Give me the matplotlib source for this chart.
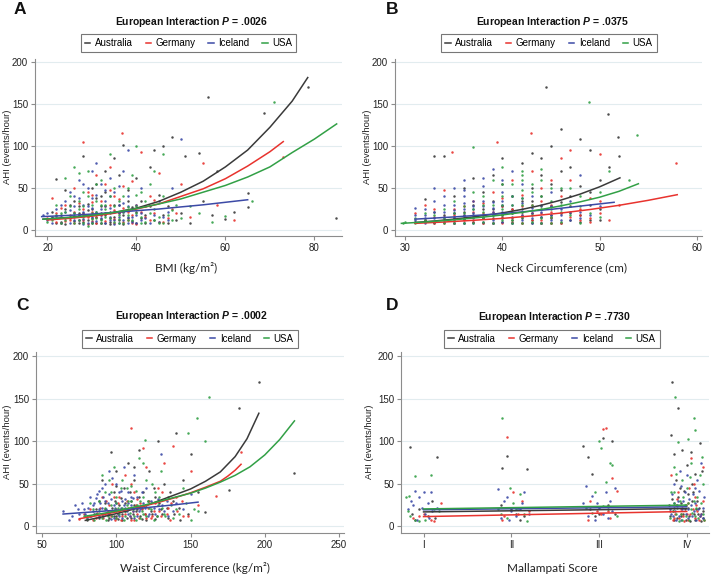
import matplotlib
matplotlib.use("Agg")
import matplotlib.pyplot as plt

plt.rcParams["font.family"] = ["Liberation Sans", "DejaVu Sans"]
plt.rcParams["mathtext.fontset"] = "custom"
plt.rcParams["mathtext.it"] = "Liberation Sans:bold:italic"
plt.rcParams["mathtext.rm"] = "Liberation Sans:bold"

W, H = 719, 575

countries = ["Australia", "Germany", "Iceland", "USA"]
colors = ["#3a3a3a", "#e8332e", "#3c4aa6", "#32a046"]

titles = ["European Interaction $P$ = .0026", "European Interaction $P$ = .0375",
          "European Interaction $P$ = .0002", "European Interaction $P$ = .7730"]
xlabels = ["BMI (kg/m²)", "Neck Circumference (cm)",
           "Waist Circumference (kg/m²)", "Mallampati Score"]
letters = ["A", "B", "C", "D"]
yticks = [0, 50, 100, 150, 200]
mallampati_ticks = [1, 2, 3, 4]
mallampati_labels = ["I", "II", "III", "IV"]

# ---- panel A : BMI ----
a_pts_aus = [(22,61),(24,47),(26,35),(27,20),(28,88),(29,12),(30,25),(30,8),(31,55),(32,40),
             (33,18),(33,70),(34,10),(35,30),(35,85),(36,22),(37,101),(38,14),(38,48),(39,27),
             (40,9),(40,62),(41,35),(42,18),(43,75),(44,95),(45,42),(46,100),(47,28),(48,110),
             (49,12),(50,20),(51,88),(52,8),(54,92),(55,35),(56,158),(57,18),(58,70),(60,13),
             (62,22),(65,44),(65,27),(68.6,139),(78.5,170),(84.8,14),(25,14),(27,9),(29,31),
             (31,16),(34,7),(36,12),(23,10),(21,15),(32,28),
             (21,22),(22,9),(23,18),(24,25),(24,7),(25,30),(26,11),(26,17),(27,28),(28,10),
             (28,20),(29,24),(30,14),(31,9),(31,38),(32,20),(32,13),(33,8),(33,45),(34,22),
             (35,16),(36,30),(37,18),(37,7),(38,35),(39,11),(40,22),(41,14),(42,8),(43,28),
             (44,12),(46,18),(47,9),(36,65),(30,50)]
a_pts_ger = [(21,38),(22,20),(23,8),(24,30),(25,12),(26,50),(27,18),(28,104),(28,25),(29,7),
             (30,42),(31,15),(31,65),(32,9),(33,28),(34,48),(35,13),(36,37),(36.7,115),(37,10),
             (38,22),(39,58),(40,30),(40,7),(41,93),(42,15),(43,40),(44,20),(45,68),(46,10),
             (48,25),(50,55),(52,15),(55,80),(58,30),(73,87),(62,12),(26,22),(29,16),(33,11),
             (35,24),(24,11),(30,33),(34,75),
             (20,14),(22,10),(23,26),(25,18),(26,9),(27,32),(27,12),(28,19),(29,45),(30,11),
             (30,22),(31,8),(32,35),(32,18),(33,55),(34,14),(34,30),(35,9),(35,40),(36,20),
             (37,26),(37,52),(38,12),(39,18),(39,8),(41,22),(42,28),(43,12),(44,36),(45,10),
             (47,14),(49,20),(33,20),(28,12),(26,15)]
a_pts_ice = [(19,18),(20,12),(21,8),(22,25),(23,15),(24,35),(25,9),(25,45),(26,20),(27,12),
             (27,60),(28,30),(28,7),(29,18),(29,50),(30,10),(30,38),(31,22),(31,80),(32,14),
             (32,55),(33,8),(33,35),(34,26),(34,62),(35,12),(35,45),(36,20),(36,8),(37,32),
             (37,70),(38,16),(38,40),(39,10),(39,25),(40,18),(41,12),(41,50),(42,28),(43,8),
             (45,35),(46,15),(47,22),(48,50),(50,108),(47,12),(26,28),(24,22),(32,18),(36,52),
             (38,95),(34,16),
             (20,20),(21,14),(22,17),(23,9),(23,30),(24,14),(25,24),(26,12),(27,18),(27,38),
             (28,22),(28,13),(29,9),(29,28),(30,16),(30,26),(31,11),(31,42),(32,25),(32,9),
             (33,20),(33,28),(34,12),(34,40),(35,22),(35,7),(36,15),(36,30),(37,12),(37,22),
             (38,9),(38,28),(39,15),(40,30),(40,9),(41,20),(42,14),(44,18),(45,10),(30,70),
             (33,48),(28,55),(26,40)]
a_pts_usa = [(20,10),(22,30),(23,20),(24,12),(25,40),(26,75),(26,8),(27,25),(28,15),(28,45),
             (29,70),(30,20),(30,9),(31,35),(32,60),(32,12),(33,25),(34,90),(34,14),(35,50),
             (36,18),(36,8),(37,40),(38,27),(38,12),(39,65),(40,100),(40,20),(41,45),(42,10),
             (42,35),(43,55),(44,25),(45,8),(45,15),(46,40),(47,18),(48,12),(49,30),(50,14),
             (52,28),(54,20),(57,10),(60,17),(66,35),(71,152),(29,5),(33,30),(37,9),(40,42),(31,14),
             (21,12),(22,18),(23,8),(24,22),(25,15),(25,28),(26,20),(27,12),(27,35),(28,9),
             (28,28),(29,18),(29,40),(30,13),(30,30),(31,22),(31,55),(32,8),(32,30),(33,16),
             (34,40),(34,20),(35,10),(35,28),(36,35),(36,13),(37,22),(38,18),(38,50),(39,12),
             (40,28),(41,8),(41,16),(43,20),(44,12),(46,8),(48,24),(24,62),(27,68),(44,70),(46,90)]

a_fit_x_aus = [19, 25, 30, 35, 40, 45, 50, 55, 60, 65, 70, 75, 78.5]
a_fit_y_aus = [13, 15, 17.5, 21, 26, 34, 45, 58, 75, 95, 122, 153, 181]
a_fit_x_ger = [20, 25, 30, 35, 40, 45, 50, 55, 60, 65, 70, 73]
a_fit_y_ger = [12, 14, 16.5, 20, 25, 31, 40, 49, 61, 76, 93, 105]
a_fit_x_ice = [18.7, 25, 30, 35, 40, 45, 50, 55, 60, 65]
a_fit_y_ice = [16, 17.5, 19, 21, 23, 25, 27.5, 30, 33, 36]
a_fit_x_usa = [19, 25, 30, 35, 40, 45, 50, 55, 60, 65, 70, 75, 80, 85]
a_fit_y_usa = [13, 15, 17.5, 21, 25.5, 31, 37, 45, 53, 63, 75, 92, 108, 126]

# ---- panel B : neck ----
b_pts_aus = [(31,10),(32,37),(33,88),(34,88),(34,12),(35,20),(36,8),(36,50),(37,30),(37,62),
             (38,15),(38,45),(39,9),(39,25),(40,18),(40,55),(40,85),(41,12),(41,40),(42,22),
             (42,80),(42,9),(43,35),(43,92),(44,15),(44,65),(44.5,170),(45,28),(45,100),(45,8),
             (46,48),(46,120),(47,20),(47,75),(48,10),(48,52),(48,108),(49,30),(49,95),(50,60),
             (50,12),(50.9,138),(51.9,110),(52,88),(51,75),(46,33),(43,12),(39,65),(35,40),(33,22),
             (32,12),(33,9),(34,18),(35,14),(35,8),(36,22),(36,13),(37,10),(37,18),(38,25),
             (38,8),(39,14),(39,35),(40,10),(40,28),(41,20),(41,8),(41,25),(42,14),(42,35),
             (43,8),(43,20),(43,50),(44,28),(44,9),(44,40),(45,14),(45,18),(45,55),(46,9),
             (46,20),(47,12),(47,40),(48,18),(49,12),(49,45),(50,25),(46,70),(44,85)]
b_pts_ger = [(31,20),(32,30),(33,15),(34,8),(34,48),(34.8,93),(35,25),(36,12),(37,35),(38,20),
             (38,9),(39,45),(39.4,104),(40,15),(40,28),(41,10),(41,60),(42,18),(42.9,115),(43,30),
             (44,12),(44,50),(45,22),(45,8),(46,40),(46,85),(47,15),(47,95),(48,25),(49,14),
             (50,90),(50,35),(57.9,80),(36,18),(38,32),(40,8),(42,42),(44,20),(47,60),(49,10),
             (32,12),(33,9),(33,25),(34,15),(35,8),(35,18),(36,28),(37,10),(37,22),(38,14),
             (39,9),(39,22),(40,38),(40,20),(41,14),(41,25),(42,8),(42,28),(43,12),(43,20),
             (44,9),(44,35),(45,15),(45,30),(46,8),(46,20),(47,28),(48,12),(48,18),(50,20),
             (51,12),(52,30),(45,60),(43,70),(49,38)]
b_pts_ice = [(31,26),(31,12),(32,18),(32,8),(33,35),(33,14),(34,22),(34,10),(35,30),(35,16),
             (35,50),(36,9),(36,25),(36,40),(37,14),(37,35),(37,20),(38,10),(38,28),(38,52),
             (39,18),(39,33),(39,12),(40,22),(40,45),(40,10),(41,16),(41,30),(41,70),(42,25),
             (42,12),(42,55),(43,20),(43,40),(43,8),(44,15),(44,30),(45,18),(45,45),(46,12),
             (46,25),(47,35),(47,12),(48,22),(48,65),(49,18),(50,28),(33,50),(36,60),(39,72),
             (31,18),(32,14),(32,25),(33,10),(33,22),(34,16),(34,30),(35,9),(35,20),(35,24),
             (36,14),(36,18),(36,32),(37,9),(37,25),(37,28),(38,14),(38,18),(38,35),(39,9),
             (39,22),(39,26),(40,14),(40,30),(40,35),(41,9),(41,22),(41,40),(42,18),(42,32),
             (43,14),(43,26),(44,9),(44,22),(45,12),(45,28),(46,18),(47,22),(48,14),(34,40),
             (36,48),(38,62),(40,60),(42,38)]
b_pts_usa = [(29.8,9),(31,14),(32,20),(33,10),(34,25),(35,12),(35,35),(36,20),(36,8),(37,99),
             (37,45),(37,15),(38,22),(38,10),(39,30),(39,60),(40,12),(40,40),(40,75),(41,20),
             (41,55),(41,8),(42,30),(42,70),(42,15),(43,45),(43,10),(44,25),(44,60),(45,35),
             (45,15),(46,50),(46,10),(47,28),(48,40),(48.9,152),(49,20),(50,45),(51,70),(53,60),
             (53.9,113),(38,40),(40,25),(42,48),(44,8),(46,22),
             (30,10),(31,8),(32,12),(33,18),(34,9),(34,14),(35,20),(35,8),(36,14),(36,28),
             (37,9),(37,25),(38,14),(38,30),(39,9),(39,18),(40,18),(40,30),(40,55),(41,12),
             (41,30),(41,40),(42,9),(42,22),(42,60),(42,38),(43,18),(43,30),(43,55),(44,14),
             (44,40),(45,9),(45,25),(45,50),(46,30),(47,18),(47,50),(48,9),(48,28),(50,15),
             (42,65),(44,72)]

b_fit_x_aus = [31, 33, 35, 37, 40, 42, 44, 46, 48, 50, 52.1]
b_fit_y_aus = [9, 10.8, 13, 15.6, 20.4, 24.5, 29.5, 35.5, 42.7, 51.3, 62]
b_fit_x_ger = [31, 34, 37, 40, 43, 46, 49, 52, 55, 58]
b_fit_y_ger = [8, 9.6, 11.6, 13.9, 16.8, 20.2, 24.4, 29.4, 35.3, 42]
b_fit_x_ice = [31, 35, 40, 45, 51.5]
b_fit_y_ice = [13, 15.6, 19.6, 24.6, 33]
b_fit_x_usa = [29.6, 32, 35, 38, 40, 42, 44, 46, 48, 50, 52, 54]
b_fit_y_usa = [8, 9.6, 12.2, 15.4, 18, 21, 24.5, 28.7, 33.5, 39, 46, 55]

# ---- panel C : waist ----
c_pts_aus = [(80,8),(85,15),(88,30),(90,55),(92,20),(95,10),(96,88),(98,40),(100,12),(100,65),
             (102,25),(104,8),(105,45),(106,18),(108,75),(110,30),(110,10),(112,55),(114,20),(115,90),
             (116,12),(118,40),(120,25),(122,65),(124,15),(126,35),(128,100),(130,20),(132,50),(135,10),
             (138,30),(140,110),(142,22),(145,55),(148,15),(150,85),(155,40),(160,17),(176,43),
             (182.6,139),(196,170),(220,63),(103,33),(117,9),(127,12),(97,22),
             (82,12),(86,20),(88,10),(90,15),(92,28),(94,8),(96,18),(98,12),(99,30),(101,9),
             (103,20),(104,15),(106,28),(107,10),(108,20),(109,40),(111,14),(112,25),(113,18),(115,35),
             (117,22),(119,14),(120,8),(121,30),(123,18),(125,45),(126,9),(129,28),(131,14),(134,22),
             (136,40),(139,15),(143,8),(100,48),(112,70)]
c_pts_ger = [(75,9),(78,14),(82,20),(86,10),(90,35),(92,15),(95,25),(97,50),(99,8),(100,20),
             (102,35),(104,12),(106,60),(108,22),(110,8),(109.8,116),(112,40),(114,15),(116,28),(118,92),
             (120,10),(122,30),(125,18),(128,45),(130,12),(132,75),(135,22),(138,95),(140,35),(145,12),
             (150,65),(155,25),(183.7,87),(167,36),(101,15),(113,25),(123,10),(136,8),
             (80,12),(84,8),(87,16),(89,22),(91,10),(93,30),(94,18),(96,12),(98,35),(100,10),
             (101,28),(103,8),(105,20),(106,14),(107,30),(109,12),(111,18),(112,8),(114,32),(115,10),
             (117,20),(119,14),(121,22),(124,12),(126,28),(129,18),(131,40),(134,15),(137,28),(141,18),
             (144,30),(148,12),(110,50),(120,70)]
c_pts_ice = [(64,18),(68,8),(72,25),(75,14),(78,20),(80,10),(82,35),(84,18),(85,28),(86,33),
             (88,12),(90,22),(90,45),(92,30),(94,15),(95,38),(96,9),(98,25),(100,18),(100,50),
             (102,12),(104,30),(105,70),(106,22),(108,15),(108,40),(110,25),(112,10),(112,60),(114,35),
             (115,18),(118,28),(120,45),(122,15),(125,22),(128,32),(130,85),(132,18),(135,12),(140,28),
             (145,20),(150,38),(103,42),(97,57),(111,33),
             (70,12),(74,20),(77,28),(79,15),(81,22),(83,12),(84,25),(86,14),(87,38),(88,20),
             (89,28),(91,12),(91,35),(93,20),(94,28),(95,14),(96,32),(97,18),(98,10),(99,22),
             (100,28),(101,14),(102,40),(103,22),(104,10),(105,25),(106,32),(107,18),(108,28),(109,12),
             (110,35),(111,18),(113,22),(114,12),(116,20),(117,40),(119,22),(121,12),(123,30),(126,15),
             (129,20),(131,25),(134,30),(138,18),(92,50),(95,65),(88,42)]
c_pts_usa = [(78,12),(82,28),(85,8),(88,18),(90,60),(92,40),(94,12),(96,25),(98,70),(100,35),
             (100,10),(102,18),(104,55),(106,12),(108,30),(110,48),(111,20),(113,8),(115,80),(116,30),
             (118,15),(120,55),(122,22),(125,8),(126,40),(128,25),(130,65),(132,15),(135,35),(138,10),
             (140,20),(145,45),(150,8),(154.5,127),(148,109.6),(162.6,152.6),(160,100),(155,18),
             (107,45),(119,102),(101,22),
             (80,9),(84,20),(86,14),(88,30),(90,10),(92,22),(93,8),(95,16),(96,40),(97,12),
             (99,20),(100,28),(102,14),(103,45),(104,22),(105,8),(106,18),(107,25),(109,16),(110,30),
             (112,12),(113,42),(114,25),(116,10),(117,18),(118,35),(120,12),(121,30),(123,20),(124,50),
             (127,12),(129,35),(131,22),(133,12),(137,25),(142,14),(147,28),(152,20),(95,55),(118,75)]

c_fit_x_aus = [79, 90, 100, 110, 120, 130, 140, 150, 160, 170, 180, 188, 196]
c_fit_y_aus = [7, 11, 15, 19.5, 24.5, 31, 37.5, 44, 53, 64, 82, 103, 133]
c_fit_x_ger = [75, 90, 100, 110, 120, 130, 140, 150, 160, 170, 175, 180, 184]
c_fit_y_ger = [9, 13.5, 17, 20.5, 24.5, 29, 34, 39.5, 46, 53, 59, 66, 73]
c_fit_x_ice = [64, 80, 100, 120, 140, 155]
c_fit_y_ice = [14.5, 16.5, 19, 22, 25.5, 28.5]
c_fit_x_usa = [79, 90, 100, 110, 120, 130, 140, 150, 160, 170, 180, 190, 200, 210, 220]
c_fit_y_usa = [12, 15, 18, 22, 25.5, 30, 34.5, 39, 45, 52, 60, 70, 84, 102, 124]

# ---- panel D : Mallampati (jittered categories) ----
d_pts_aus = [(0.85,93),(1.15,82),(0.95,20),(1.05,12),(1.1,30),(0.9,8),
             (1.95,83),(1.9,69),(2.18,68),(2.05,15),(1.88,25),(2.1,8),
             (2.82,94),(2.88,81),(2.92,62),(3.05,104),(3.15,100),(2.95,12),(3.1,25),(3.18,15),
             (3.83,170),(3.9,139),(3.82,108),(3.85,85),(3.95,90),(4.0,72),(4.05,88),(4.15,98),
             (4.1,62),(3.88,55),(3.92,45),(4.02,38),(4.12,30),(3.8,25),(3.98,20),(4.08,15),
             (4.18,10),(3.86,8),(3.94,12),(4.04,6),(4.14,22),(3.9,35),(4.06,50),(4.17,65),(3.84,18),
             (3.81,12),(3.86,22),(3.89,10),(3.93,28),(3.96,15),(3.99,8),(4.01,22),(4.03,12),
             (4.06,30),(4.09,8),(4.11,20),(4.13,14),(4.16,6),(4.19,18),(3.83,32),(3.97,42),
             (4.07,40),(0.87,15),(1.13,10),(2.0,20),(2.14,12),(2.9,20),(3.0,15)]
d_pts_ger = [(1.0,14),(1.2,27),(0.88,10),(1.12,6),
             (1.95,105),(2.02,40),(2.12,30),(1.92,12),(2.2,18),
             (3.08,116),(3.04,115),(3.15,57),(2.9,30),(3.12,10),(3.2,42),(2.98,18),
             (3.82,60),(3.9,40),(3.95,22),(4.0,15),(4.05,80),(4.1,35),(4.15,12),(4.2,8),
             (3.85,10),(4.02,28),(4.12,18),(3.97,6),(4.08,50),(3.88,25),(4.18,70),(3.93,14),
             (3.81,18),(3.84,8),(3.87,14),(3.91,10),(3.94,20),(3.96,12),(3.99,25),(4.01,8),
             (4.04,14),(4.07,20),(4.09,10),(4.11,25),(4.14,8),(4.16,15),(4.19,30),(3.89,32),
             (4.03,45),(0.95,12),(1.08,8),(1.9,8),(2.08,14),(2.88,8),(3.02,14),(3.1,18)]
d_pts_ice = [(0.82,20),(0.9,42),(0.95,35),(1.0,40),(1.05,28),(1.1,18),(0.88,25),(1.02,15),
             (0.92,8),(1.15,22),(0.86,30),(1.08,40),
             (1.85,44),(1.92,30),(2.0,18),(2.08,22),(2.15,40),(1.88,10),(2.05,12),(2.12,28),
             (1.97,8),(2.2,15),
             (2.85,48),(2.92,36),(3.0,22),(3.08,40),(2.88,12),(3.12,30),(3.18,45),(2.95,8),
             (3.05,15),(2.82,28),(3.15,18),
             (3.85,50),(3.9,30),(3.95,20),(4.0,60),(4.05,25),(4.1,45),(4.15,12),(4.2,35),
             (3.82,15),(3.88,8),(3.98,40),(4.08,18),(4.12,55),(3.92,65),(4.18,22),(4.02,10),
             (3.86,28),(4.16,75),
             (3.81,20),(3.84,12),(3.87,18),(3.89,25),(3.91,12),(3.94,8),(3.96,30),(3.99,15),
             (4.01,20),(4.03,32),(4.06,12),(4.09,28),(4.11,8),(4.13,20),(4.16,14),(4.19,10),
             (3.93,48),(4.07,38),(4.14,42),(3.83,38),(0.98,22),(1.06,10),(1.95,35),(2.1,20),
             (2.98,28),(3.1,10)]
d_pts_usa = [(0.8,34),(0.83,36),(0.9,8),(1.08,60),(0.9,59),(1.12,20),(0.85,12),(1.18,18),(0.95,6),
             (1.9,127),(1.98,45),(2.1,38),(1.85,20),(2.02,28),(2.15,14),(2.18,6),(1.95,10),
             (3.0,100),(3.02,92),(3.12,75),(3.15,72),(3.08,52),(2.85,22),(2.95,40),(3.2,12),(3.1,20),
             (3.87,152),(4.08,127),(4.09,113),(4.02,103),(3.9,99),(3.85,70),(3.95,55),(4.0,45),
             (3.92,30),(4.05,20),(4.1,12),(4.15,60),(4.2,8),(3.82,40),(3.88,15),(3.98,25),
             (4.12,35),(4.18,50),(3.95,8),(4.05,75),(3.85,28),
             (3.81,10),(3.84,18),(3.86,40),(3.89,22),(3.91,6),(3.93,15),(3.96,35),(3.99,12),
             (4.01,28),(4.03,8),(4.06,16),(4.08,30),(4.11,22),(4.13,10),(4.16,28),(4.19,15),
             (3.88,62),(4.04,58),(4.17,82),(0.82,18),(1.02,8),(2.05,20),(1.88,15),(2.92,16),(3.05,24)]

d_fit_x = [1, 2, 3, 4]
d_fit_y_aus = [17, 18.3, 19.6, 21]
d_fit_y_ger = [11.5, 13.5, 15.5, 17.5]
d_fit_y_ice = [19.5, 20.7, 21.9, 23]
d_fit_y_usa = [20.5, 22, 23.5, 25]

panel_pts = [
    [a_pts_aus, a_pts_ger, a_pts_ice, a_pts_usa],
    [b_pts_aus, b_pts_ger, b_pts_ice, b_pts_usa],
    [c_pts_aus, c_pts_ger, c_pts_ice, c_pts_usa],
    [d_pts_aus, d_pts_ger, d_pts_ice, d_pts_usa],
]
panel_fits = [
    [(a_fit_x_aus, a_fit_y_aus), (a_fit_x_ger, a_fit_y_ger), (a_fit_x_ice, a_fit_y_ice), (a_fit_x_usa, a_fit_y_usa)],
    [(b_fit_x_aus, b_fit_y_aus), (b_fit_x_ger, b_fit_y_ger), (b_fit_x_ice, b_fit_y_ice), (b_fit_x_usa, b_fit_y_usa)],
    [(c_fit_x_aus, c_fit_y_aus), (c_fit_x_ger, c_fit_y_ger), (c_fit_x_ice, c_fit_y_ice), (c_fit_x_usa, c_fit_y_usa)],
    [(d_fit_x, d_fit_y_aus), (d_fit_x, d_fit_y_ger), (d_fit_x, d_fit_y_ice), (d_fit_x, d_fit_y_usa)],
]
xlims = [(17.2, 86.2), (28.94, 60.55), (45.75, 253.4), (0.743, 4.254)]
xticks = [[20, 40, 60, 80], [30, 40, 50, 60], [50, 100, 150, 200, 250], mallampati_ticks]
ylims = [(-7, 203), (-7, 203), (-7.8, 205), (-7.8, 205)]

# pixel boxes (left, top, right, bottom) of each plot area
boxes = [(35, 59, 342, 236), (395, 59, 702, 236), (36, 352, 344, 533), (401, 352, 709, 533)]
title_pos = [(191, 22), (553, 22), (191, 316), (554, 317)]
legend_pos = [(188.5, 52), (549, 52), (190, 347.5), (552, 347.5)]
letter_pos = [(14, 2), (386, 2), (16, 298), (386, 298)]
xlabel_pos = [(186, 268), (562, 268), (195, 568), (552, 568)]
ylabel_pos = [(8, 147), (368, 147), (8, 442), (370, 442)]


def fx(px):
    return px / W


def fy(py):
    return 1 - py / H


fig = plt.figure(figsize=(W / 100, H / 100), dpi=100)
fig.patch.set_facecolor("white")

for i in range(4):
    l, t, r, b = boxes[i]
    ax = fig.add_axes([fx(l), fy(b), (r - l) / W, (b - t) / H])

    for pts, col in zip(panel_pts[i], colors):
        xs = [p[0] for p in pts]
        ys = [p[1] for p in pts]
        ax.scatter(xs, ys, s=3.2, color=col, linewidths=0, alpha=0.9, zorder=2)

    order = [1, 0, 2, 3] if i == 3 else [0, 1, 2, 3]
    for k in order:
        fx_, fy_ = panel_fits[i][k]
        ax.plot(fx_, fy_, color=colors[k], lw=1.1, zorder=3, label=countries[k],
                solid_joinstyle="round")

    ax.set_xlim(*xlims[i])
    ax.set_ylim(*ylims[i])
    ax.set_xticks(xticks[i])
    if i == 3:
        ax.set_xticklabels(mallampati_labels)
    ax.set_yticks(yticks)
    ax.yaxis.grid(True, color="#e2ecef", lw=0.8)
    ax.set_axisbelow(True)
    for s in ["top", "right"]:
        ax.spines[s].set_visible(False)
    for s in ["left", "bottom"]:
        ax.spines[s].set_color("#8c8c8c")
        ax.spines[s].set_linewidth(0.8)
    ax.tick_params(direction="out", length=3, width=0.8, color="#8c8c8c",
                   labelsize=7, labelcolor="#222222", pad=2)

    handles, labels = ax.get_legend_handles_labels()
    hl = dict(zip(labels, handles))
    lx, ly = legend_pos[i]
    leg = ax.legend([hl[c] for c in countries], countries, ncol=4, loc="lower center",
                    bbox_to_anchor=(fx(lx), fy(ly)), bbox_transform=fig.transFigure,
                    fontsize=7, frameon=True, fancybox=False, handlelength=0.55,
                    handletextpad=0.45, columnspacing=1.35, borderpad=0.4,
                    borderaxespad=0)
    leg.get_frame().set_edgecolor("#555555")
    leg.get_frame().set_linewidth(0.8)

    tx, ty = title_pos[i]
    fig.text(fx(tx), fy(ty), titles[i], ha="center", va="center",
             fontsize=7.5, fontweight="bold", color="#111111")
    px, py = letter_pos[i]
    fig.text(fx(px), fy(py), letters[i], ha="left", va="top",
             fontsize=12.5, fontweight="bold", color="#111111")
    xx, xy = xlabel_pos[i]
    fig.text(fx(xx), fy(xy), xlabels[i], ha="center", va="center",
             fontsize=8.5, family=["Lato", "DejaVu Sans"], color="#222222")
    yx, yy = ylabel_pos[i]
    fig.text(fx(yx), fy(yy), "AHI (events/hour)", ha="center", va="center",
             rotation=90, fontsize=6.8, color="#222222")

fig.savefig("out.png", dpi=100)
